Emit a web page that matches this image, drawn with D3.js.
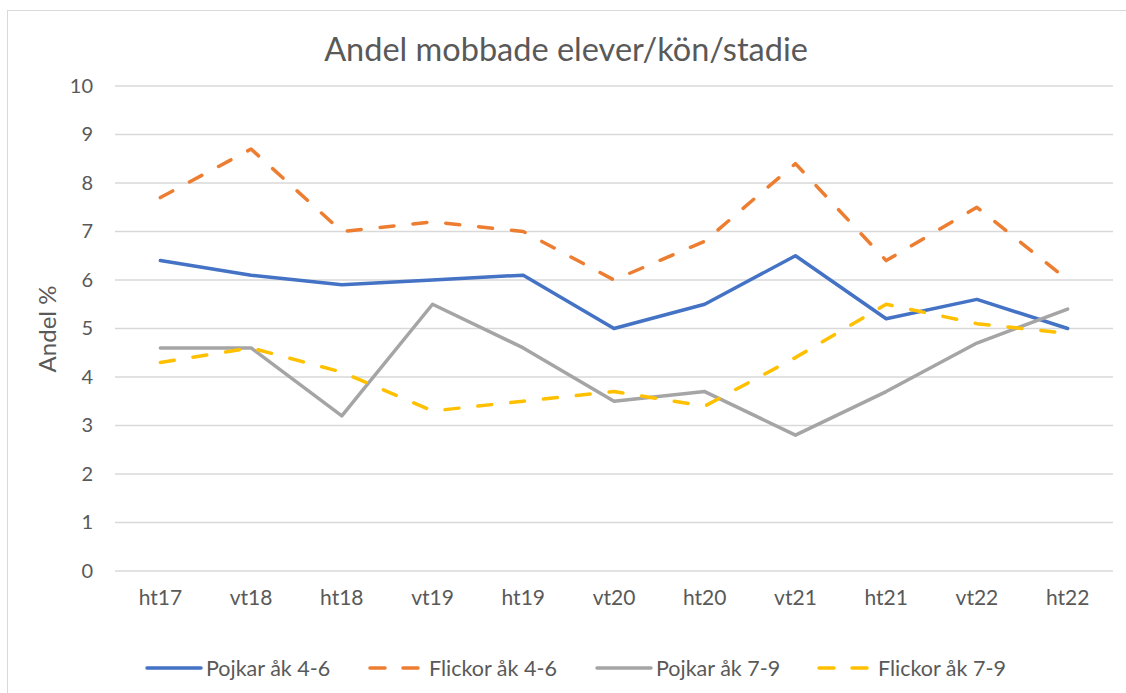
<!DOCTYPE html>
<html lang="sv">
<head>
<meta charset="utf-8">
<title>Andel mobbade elever</title>
<script src="https://d3js.org/d3.v7.min.js"></script>
<style>
  body { margin: 0; background: #fff; }
  text { font-family: Lato, "Open Sans", sans-serif; fill: #595959; }
</style>
</head>
<body>
<svg id="chart" width="1126" height="693"></svg>
<script>
// terms on the x axis
var terms = ["ht17", "vt18", "ht18", "vt19", "ht19", "vt20", "ht20", "vt21", "ht21", "vt22", "ht22"];
// series values (percent)
var pojkar46  = [6.4, 6.1, 5.9, 6.0, 6.1, 5.0, 5.5, 6.5, 5.2, 5.6, 5.0];
var flickor46 = [7.7, 8.7, 7.0, 7.2, 7.0, 6.0, 6.8, 8.4, 6.4, 7.5, 6.0];
var pojkar79  = [4.6, 4.6, 3.2, 5.5, 4.6, 3.5, 3.7, 2.8, 3.7, 4.7, 5.4];
var flickor79 = [4.3, 4.6, 4.1, 3.3, 3.5, 3.7, 3.4, 4.4, 5.5, 5.1, 4.9];
var yTicks = [0, 1, 2, 3, 4, 5, 6, 7, 8, 9, 10];

var series = [
  { name: "Pojkar åk 4-6", values: pojkar46, color: "#4472C4", dash: null },
  { name: "Flickor åk 4-6", values: flickor46, color: "#ED7D31", dash: "14,19" },
  { name: "Pojkar åk 7-9", values: pojkar79, color: "#A5A5A5", dash: null },
  { name: "Flickor åk 7-9", values: flickor79, color: "#FFC000", dash: "14,19" }
];

var svg = d3.select("#chart");

// outer chart border (right/bottom edges fall outside the window)
svg.append("rect")
  .attr("x", 7.5).attr("y", 10.5)
  .attr("width", 1130).attr("height", 700)
  .attr("fill", "none")
  .attr("stroke", "#D9D9D9");

var margin = { top: 86, left: 115, right: 1113, bottom: 571 };

var x = d3.scaleBand()
  .domain(terms)
  .range([margin.left, margin.right]);

var y = d3.scaleLinear()
  .domain([0, 10])
  .range([margin.bottom, margin.top]);

// gridlines
svg.append("g")
  .selectAll("line")
  .data(yTicks)
  .enter()
  .append("line")
  .attr("x1", margin.left)
  .attr("x2", margin.right)
  .attr("y1", function (d) { return y(d); })
  .attr("y2", function (d) { return y(d); })
  .attr("stroke", "#D9D9D9")
  .attr("stroke-width", 1.3);

// y axis labels
var yAxis = svg.append("g")
  .attr("transform", "translate(" + 93 + ",0)")
  .call(d3.axisLeft(y).tickValues(yTicks).tickSize(0).tickPadding(0));
yAxis.select(".domain").remove();
yAxis.selectAll("text")
  .attr("font-size", "20px")
  .attr("font-family", "Lato, sans-serif")
  .attr("fill", "#595959");

// x axis labels
var xAxis = svg.append("g")
  .attr("transform", "translate(0," + 590 + ")")
  .call(d3.axisBottom(x).tickSize(0).tickPadding(0));
xAxis.select(".domain").remove();
xAxis.selectAll("text")
  .attr("font-size", "21px")
  .attr("font-family", "Lato, sans-serif")
  .attr("fill", "#595959");

// lines
var line = d3.line()
  .x(function (d, i) { return x(terms[i]) + x.bandwidth() / 2; })
  .y(function (d) { return y(d); });

svg.append("g")
  .selectAll("path")
  .data(series)
  .enter()
  .append("path")
  .attr("d", function (d) { return line(d.values); })
  .attr("fill", "none")
  .attr("stroke", function (d) { return d.color; })
  .attr("stroke-width", 3.5)
  .attr("stroke-linejoin", "round")
  .attr("stroke-linecap", "round")
  .attr("stroke-dasharray", function (d) { return d.dash; });

// title
svg.append("text")
  .attr("x", 566)
  .attr("y", 61)
  .attr("text-anchor", "middle")
  .attr("font-size", "32.5px")
  .text("Andel mobbade elever/kön/stadie");

// y axis title
svg.append("text")
  .attr("transform", "translate(56,329) rotate(-90)")
  .attr("text-anchor", "middle")
  .attr("font-size", "24px")
  .text("Andel %");

// legend
var legendX = [147, 370, 597, 819];
var legend = svg.append("g")
  .selectAll("g")
  .data(series)
  .enter()
  .append("g")
  .attr("transform", function (d, i) { return "translate(" + legendX[i] + ",668)"; });

legend.append("line")
  .attr("x1", 0)
  .attr("x2", 54)
  .attr("y1", 0)
  .attr("y2", 0)
  .attr("stroke", function (d) { return d.color; })
  .attr("stroke-width", 3.5)
  .attr("stroke-linecap", "round")
  .attr("stroke-dasharray", function (d) { return d.dash ? "15,18" : null; });

legend.append("text")
  .attr("x", 59)
  .attr("y", 7.5)
  .attr("font-size", "21.5px")
  .text(function (d) { return d.name; });
</script>
</body>
</html>
